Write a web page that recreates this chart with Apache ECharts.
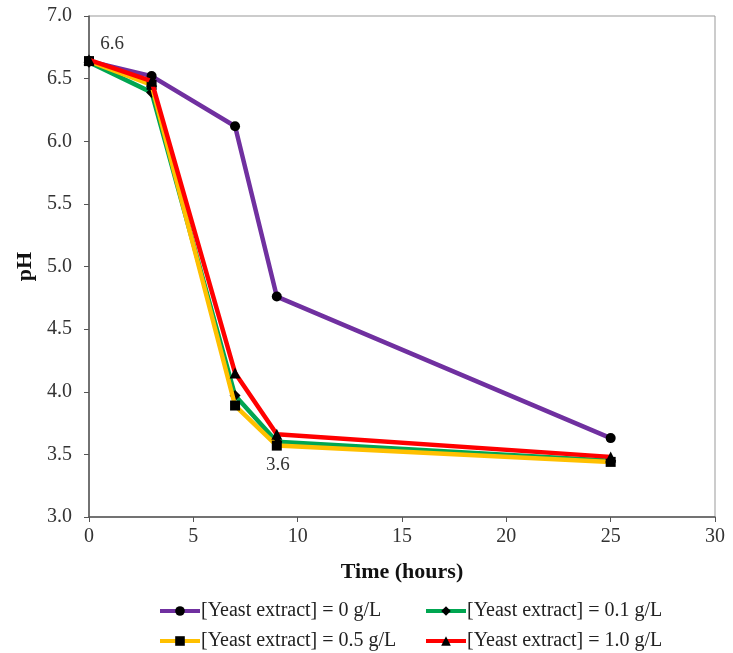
<!DOCTYPE html>
<html>
<head>
<meta charset="utf-8">
<script src="https://cdn.jsdelivr.net/npm/echarts@6/dist/echarts.min.js"></script>
<style>html,body{margin:0;padding:0;background:#fff}#c{width:733px;height:653px}</style>
</head>
<body>
<div id="c"></div>
<script>
// Sampling times (hours)
var hours = [0, 3, 7, 9, 25];
// pH readings per yeast extract concentration
var ph0 = [6.64, 6.52, 6.12, 4.76, 3.63];
var ph01 = [6.63, 6.39, 3.97, 3.60, 3.45];
var ph05 = [6.64, 6.45, 3.89, 3.57, 3.44];
var ph10 = [6.65, 6.48, 4.15, 3.66, 3.48];
var seriesNames = [
  '[Yeast extract] = 0 g/L',
  '[Yeast extract] = 0.1 g/L',
  '[Yeast extract] = 0.5 g/L',
  '[Yeast extract] = 1.0 g/L'
];
var xTicks = [0, 5, 10, 15, 20, 25, 30];
var yTicks = [3.0, 3.5, 4.0, 4.5, 5.0, 5.5, 6.0, 6.5, 7.0];

var FONT = 'Liberation Serif';
var colors = ['#7030A0', '#00A651', '#FFC000', '#FF0000'];
var symbols = ['circle', 'diamond', 'rect', 'triangle'];
var symSizes = [10, 11, 10, 11];
var values = [ph0, ph01, ph05, ph10];

function pairs(v) { return hours.map(function (h, i) { return [h, v[i]]; }); }

// Points whose value is printed beside them: [series index, point index] -> offset
var annotated = { '0-0': [23, -17], '2-3': [1, 19] };

var series = values.map(function (v, s) {
  return {
    name: seriesNames[s],
    type: 'line',
    data: pairs(v).map(function (p, i) {
      var key = s + '-' + i;
      var d = { value: p };
      if (annotated[key]) {
        d.label = {
          show: true,
          position: 'inside',
          offset: annotated[key],
          formatter: function (prm) { return prm.value[1].toFixed(1); },
          fontFamily: FONT, fontSize: 19, color: '#333'
        };
      }
      return d;
    }),
    symbol: symbols[s],
    symbolSize: symSizes[s],
    showAllSymbol: true,
    lineStyle: { color: colors[s], width: 4.5 },
    itemStyle: { color: '#000' },
    z: 2 + s,
    animation: false
  };
});

var legendPos = [[153, 596], [419, 596], [153, 626], [419, 626]];
var legends = seriesNames.map(function (n, i) {
  return {
    data: [n],
    left: legendPos[i][0], top: legendPos[i][1],
    itemWidth: 40, itemHeight: 12, itemGap: 0,
    lineStyle: { width: 4 },
    textStyle: { fontFamily: FONT, fontSize: 20, color: '#222', padding: [0, 0, 0, -4] }
  };
});

var chart = echarts.init(document.getElementById('c'));
chart.setOption({
  backgroundColor: '#fff',
  animation: false,
  grid: { left: 89, right: 18, top: 16, bottom: 136, show: true, borderColor: '#999', borderWidth: 1 },
  legend: legends,
  xAxis: {
    type: 'value', min: xTicks[0], max: xTicks[xTicks.length - 1], interval: 5,
    name: 'Time (hours)', nameLocation: 'middle', nameGap: 44,
    nameTextStyle: { fontFamily: FONT, fontSize: 22, fontWeight: 'bold', color: '#111' },
    axisLine: { lineStyle: { color: '#555', width: 1.5 } },
    axisTick: { show: true, inside: false, length: 5, lineStyle: { color: '#555' } },
    axisLabel: { fontFamily: FONT, fontSize: 20, color: '#333', margin: 10 },
    splitLine: { show: false }
  },
  yAxis: {
    type: 'value', min: yTicks[0], max: yTicks[yTicks.length - 1], interval: 0.5,
    name: 'pH', nameLocation: 'middle', nameGap: 52, nameRotate: 90,
    nameTextStyle: { fontFamily: FONT, fontSize: 22, fontWeight: 'bold', color: '#111' },
    axisLine: { show: true, lineStyle: { color: '#555', width: 1.5 } },
    axisTick: { show: true, inside: false, length: 5, lineStyle: { color: '#555' } },
    axisLabel: { fontFamily: FONT, fontSize: 20, color: '#333', margin: 17,
      formatter: function (v) { return v.toFixed(1); } },
    splitLine: { show: false }
  },
  series: series
});
</script>
</body>
</html>
